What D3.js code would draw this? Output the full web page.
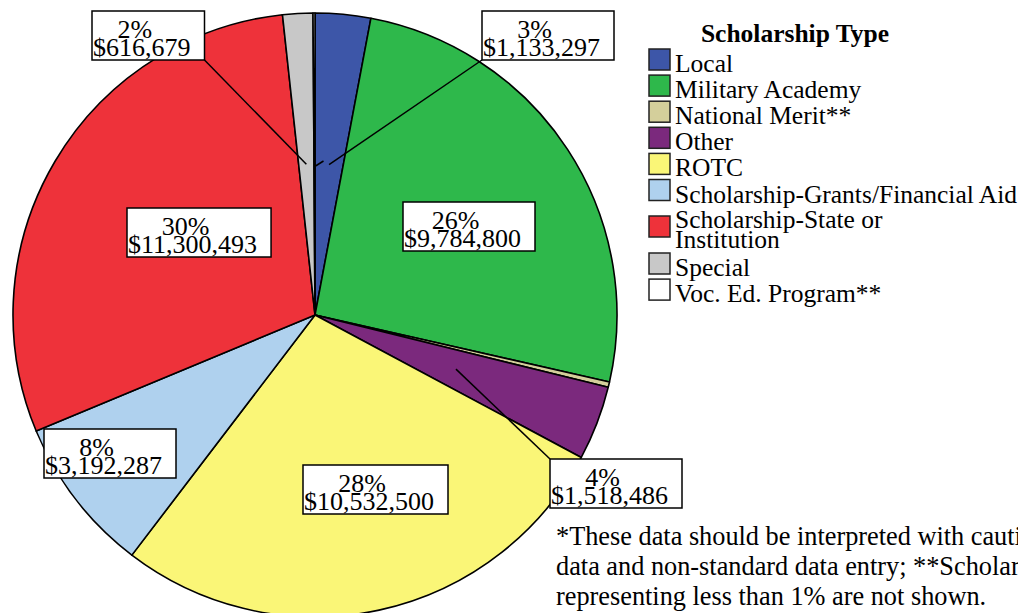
<!DOCTYPE html>
<html>
<head>
<meta charset="utf-8">
<script src="https://cdn.jsdelivr.net/npm/d3@7"></script>
<style>
  body { margin: 0; background: #fff; }
  svg { display: block; }
</style>
</head>
<body>
<script>
// Scholarship data
var categories = ["Local", "Military Academy", "National Merit**", "Other", "ROTC",
  "Scholarship-Grants/Financial Aid", "Scholarship-State or Institution", "Special", "Voc. Ed. Program**"];
var amounts = [1133297, 9784800, 110000, 1518486, 10532500, 3192287, 11300493, 616679, 40000];
var colors = ["#3D56A8", "#2EB84B", "#D4CF9B", "#7B297D", "#FAF677", "#AFD1EE", "#EE323A", "#C8C8C8", "#FFFFFF"];
var legendLines = [["Local"], ["Military Academy"], ["National Merit**"], ["Other"], ["ROTC"],
  ["Scholarship-Grants/Financial Aid"], ["Scholarship-State or", "Institution"], ["Special"], ["Voc. Ed. Program**"]];
var footnote = [
  "*These data should be interpreted with caution due to missing",
  "data and non-standard data entry; **Scholarships",
  "representing less than 1% are not shown."
];

var svgWidth = 1018;
var svgHeight = 613;
var cx = 315, cy = 315, radius = 302;
var serif = "Liberation Serif";

var svg = d3.select("body")
  .append("svg")
  .attr("width", svgWidth)
  .attr("height", svgHeight);

var total = d3.sum(amounts);
var pct = d3.format(".0%");
var money = d3.format("$,");

var pie = d3.pie().sort(null).value(d => d);
var arcs = pie(amounts);
var arc = d3.arc().innerRadius(0).outerRadius(radius);

var pieGroup = svg.append("g")
  .attr("transform", `translate(${cx}, ${cy})`);

pieGroup.selectAll("path")
  .data(arcs)
  .enter()
  .append("path")
  .attr("d", arc)
  .attr("fill", (d, i) => colors[i])
  .attr("stroke", "#000")
  .attr("stroke-width", 1.6)
  .attr("stroke-linejoin", "round");

// label boxes: top-left corner of each box (layout only)
var labelBoxes = {
  "Local": { x: 482, y: 11, leader: "bl" },
  "Military Academy": { x: 403, y: 202 },
  "Other": { x: 550, y: 459, leader: "tl" },
  "ROTC": { x: 303, y: 465 },
  "Scholarship-Grants/Financial Aid": { x: 44, y: 429 },
  "Scholarship-State or Institution": { x: 127, y: 208 },
  "Special": { x: 92, y: 11, leader: "br" }
};

var labelGroup = svg.append("g");
var boxH = 49;

arcs.forEach(function(a, i) {
  var pos = labelBoxes[categories[i]];
  var centroid = arc.centroid(a);
  var px = cx + centroid[0], py = cy + centroid[1];
  if (!pos) {
    // tiny slices: only a short tick remains
    if (categories[i] === "Voc. Ed. Program**") {
      labelGroup.append("line")
        .attr("x1", px + 1).attr("y1", py + 2)
        .attr("x2", px + 9).attr("y2", py - 3)
        .attr("stroke", "#000").attr("stroke-width", 1.5);
    }
    return;
  }
  var g = labelGroup.append("g");
  var rect = g.append("rect")
    .attr("x", pos.x).attr("y", pos.y)
    .attr("height", boxH)
    .attr("fill", "#fff")
    .attr("stroke", "#000")
    .attr("stroke-width", 1.5);
  var line2 = g.append("text")
    .attr("x", pos.x + 1)
    .attr("y", pos.y + 45)
    .style("font-family", serif)
    .style("font-size", "26px")
    .text(money(amounts[i]));
  var w = line2.node().getComputedTextLength();
  g.append("text")
    .attr("x", pos.x + w / 2 - 6)
    .attr("y", pos.y + 27)
    .attr("text-anchor", "middle")
    .style("font-family", serif)
    .style("font-size", "26px")
    .text(pct(amounts[i] / total));
  var bw = w + 15;
  rect.attr("width", bw);

  if (pos.leader) {
    var lx = pos.leader.endsWith("l") ? pos.x : pos.x + bw;
    var ly = pos.leader.startsWith("b") ? pos.y + boxH : pos.y;
    labelGroup.append("line")
      .attr("x1", lx).attr("y1", ly)
      .attr("x2", px).attr("y2", py)
      .attr("stroke", "#000")
      .attr("stroke-width", 1.5);
  }
});

// Legend
var legend = svg.append("g");
legend.append("text")
  .attr("x", 795)
  .attr("y", 42)
  .attr("text-anchor", "middle")
  .style("font-family", serif)
  .style("font-size", "25.5px")
  .style("font-weight", "bold")
  .text("Scholarship Type");

var rowY = 49;
legendLines.forEach(function(lines, i) {
  legend.append("rect")
    .attr("x", 649).attr("y", rowY)
    .attr("width", 21).attr("height", 21)
    .attr("fill", colors[i])
    .attr("stroke", "#222")
    .attr("stroke-width", 1.5);
  lines.forEach(function(t, j) {
    legend.append("text")
      .attr("x", 675)
      .attr("y", lines.length > 1 ? rowY + 12 + j * 20 : rowY + 23)
      .style("font-family", serif)
      .style("font-size", "25.5px")
      .text(t);
  });
  rowY += lines.length > 1 ? 37 : (i === 5 ? 36.5 : 26.1);
});

// Footnote
svg.append("g").selectAll("text")
  .data(footnote)
  .enter()
  .append("text")
  .attr("x", 556)
  .attr("y", (d, i) => 545 + i * 30)
  .style("font-family", serif)
  .style("font-size", "26.3px")
  .text(d => d);
</script>
</body>
</html>
